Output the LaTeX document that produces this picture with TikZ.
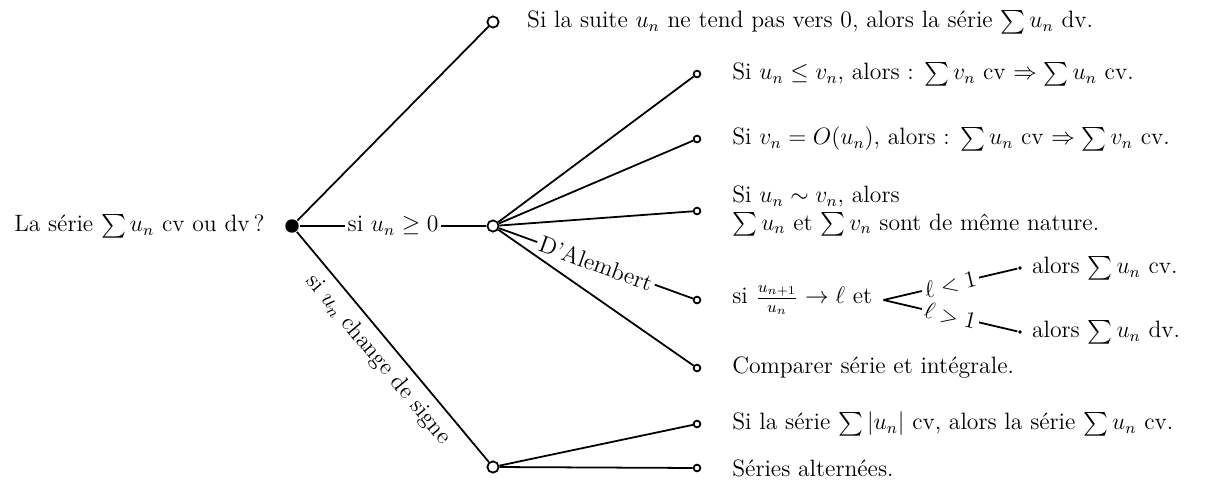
\documentclass[tikz,border=0pt]{standalone}
\usepackage{amsmath}
\usepackage{amssymb}
\usetikzlibrary{positioning}

\begin{document}
\begin{tikzpicture}[x=0.0178cm, y=-0.0178cm, line width=0.9pt, font=\large,
  rootdot/.style={circle, fill, inner sep=0pt, minimum size=0.24cm},
  opendot/.style={circle, draw, fill=white, inner sep=0pt, minimum size=0.2cm},
  leafdot/.style={circle, draw, fill=white, inner sep=0pt, minimum size=0.12cm},
  tinydot/.style={circle, fill, inner sep=0pt, minimum size=0.07cm},
  onedge/.style={fill=white, inner sep=1.5pt}]

\useasboundingbox (0,0) rectangle (1205,483);

% ---- Root -------------------------------------------------------------
\node[rootdot] (root) at (292,226) {};
\node[left=2.2mm of root] (question) {La série $\sum u_n$ cv ou dv\,?};

% ---- First level ------------------------------------------------------
\node[opendot] (notzero) at (493,22) {};
\node[opendot] (positive) at (493,226) {};
\node[opendot] (sign) at (493,467) {};

\draw (root) -- (notzero);
\draw (root) -- node[onedge] {si $u_n\geq 0$} (positive);
\draw (root) -- node[sloped, below, inner sep=4pt] {si $u_n$ change de signe} (sign);

\node[right=3.6mm of notzero] (notzerotxt)
      {Si la suite $u_n$ ne tend pas vers 0, alors la série $\sum u_n$ dv.};

% ---- Positive terms ---------------------------------------------------
\node[leafdot] (compare) at (697,74) {};
\node[leafdot] (bigo) at (697,139) {};
\node[leafdot] (equiv) at (697,211) {};
\node[leafdot] (dalembert) at (697,300) {};
\node[leafdot] (integral) at (697,368) {};

\draw (positive) -- (compare);
\draw (positive) -- (bigo);
\draw (positive) -- (equiv);
\draw (positive) -- node[onedge, sloped] {D'Alembert} (dalembert);
\draw (positive) -- (integral);

\node[right=4.2mm of compare] (comparetxt)
      {Si $u_n\leq v_n$, alors : $\sum v_n$ cv $\Rightarrow\sum u_n$ cv.};
\node[right=4.2mm of bigo] (bigotxt)
      {Si $v_n=O(u_n)$, alors : $\sum u_n$ cv $\Rightarrow\sum v_n$ cv.};
\node[right=4.2mm of equiv, align=left] (equivtxt)
      {Si $u_n\sim v_n$, alors\\$\sum u_n$ et $\sum v_n$ sont de même nature.};
\node[right=4.2mm of dalembert] (ratio)
      {si $\frac{u_{n+1}}{u_n}\to\ell$ et};
\node[right=4.2mm of integral] (integraltxt) {Comparer série et intégrale.};

% ---- Ratio test -------------------------------------------------------
\node[tinydot] (lessone) at (1020,268) {};
\node[tinydot] (moreone) at (1020,332) {};

\draw ([xshift=2pt]ratio.east) -- node[onedge, sloped] {$\ell<1$} (lessone);
\draw ([xshift=2pt]ratio.east) -- node[onedge, sloped] {$\ell>1$} (moreone);

\node[right=0.3mm of lessone] (cvtxt) {alors $\sum u_n$ cv.};
\node[right=0.3mm of moreone] (dvtxt) {alors $\sum u_n$ dv.};

% ---- Changing sign ----------------------------------------------------
\node[leafdot] (absolute) at (697,424) {};
\node[leafdot] (alternating) at (697,468) {};

\draw (sign) -- (absolute);
\draw (sign) -- (alternating);

\node[right=4.2mm of absolute] (absolutetxt)
      {Si la série $\sum |u_n|$ cv, alors la série $\sum u_n$ cv.};
\node[right=4.2mm of alternating] (alternatingtxt) {Séries alternées.};

\end{tikzpicture}
\end{document}
